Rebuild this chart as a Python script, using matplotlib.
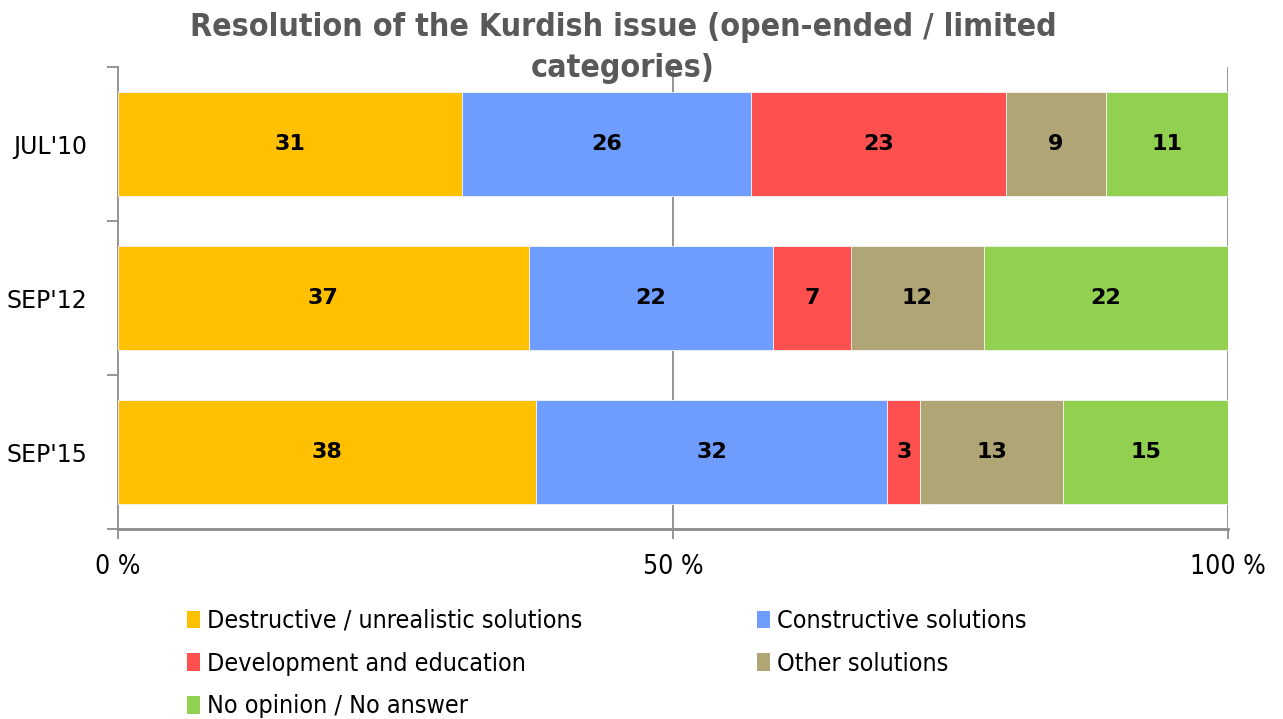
import numpy as np
import matplotlib.pyplot as plt
from matplotlib.patches import Patch

# survey waves (top to bottom)
waves = ["JUL'10", "SEP'12", "SEP'15"]

# answer categories and their shares per wave
categories = [
    "Destructive / unrealistic solutions",
    "Constructive solutions",
    "Development and education",
    "Other solutions",
    "No opinion / No answer",
]
destructive = [31, 37, 38]
constructive = [26, 22, 32]
development = [23, 7, 3]
other = [9, 12, 13]
no_opinion = [11, 22, 15]

colors = ["#FFC000", "#6E9DFF", "#FF5050", "#B0A575", "#92D050"]

series = np.array([destructive, constructive, development, other, no_opinion], dtype=float)
# 100% stacked: each wave scaled to its own total
shares = series / series.sum(axis=0) * 100

fig = plt.figure(figsize=(12.83, 7.19), dpi=100)
ax = fig.add_axes([118 / 1283, 1 - 529 / 719, 1110 / 1283, 462 / 719])

y = np.arange(len(waves))
left = np.zeros(len(waves))
for i, (vals, sh) in enumerate(zip(series, shares)):
    ax.barh(y, sh, left=left, height=0.67, color=colors[i],
            edgecolor="#f4f4f4", linewidth=0.6, zorder=3)
    for j in range(len(waves)):
        ax.text(left[j] + sh[j] / 2, y[j], f"{vals[j]:.0f}", ha="center", va="center",
                fontsize=16, fontweight="bold", color="black",
                family="DejaVu Sans", zorder=4)
    left += sh

ax.set_xlim(0, 100)
ax.set_ylim(len(waves) - 0.5, -0.5)

# vertical grid lines
for gx in (50, 100):
    ax.axvline(gx, color="#8c8c8c", linewidth=1.3, zorder=1)

for s in ("top", "right"):
    ax.spines[s].set_visible(False)
ax.spines["left"].set_color("#8c8c8c")
ax.spines["bottom"].set_color("#8c8c8c")
ax.spines["left"].set_linewidth(1.3)
ax.spines["bottom"].set_linewidth(2)

ax.set_xticks([0, 50, 100])
ax.set_xticklabels(["0 %", "50 %", "100 %"], fontsize=19, stretch="condensed")
ax.tick_params(axis="x", length=7, color="#8c8c8c", width=1.3, pad=11)

ax.set_yticks(y)
ax.set_yticklabels(waves, fontsize=17)
ax.tick_params(axis="y", length=0, pad=22)
ax.set_yticks(np.arange(len(waves) + 1) - 0.5, minor=True)
ax.tick_params(axis="y", which="minor", length=8, color="#8c8c8c", width=1.3)

fig.text(623 / 1283, 1 - 48 / 719, "Resolution of the Kurdish issue (open-ended / limited\ncategories)",
         ha="center", va="center", fontsize=23, fontweight="bold", color="#595959",
         stretch="condensed", linespacing=1.4)

handles = [Patch(facecolor=c) for c in colors]
order = [0, 2, 4, 1, 3]
fig.legend([handles[k] for k in order], [categories[k] for k in order],
           loc="upper left", bbox_to_anchor=(187 / 1283, 1 - 609 / 719), ncol=2,
           frameon=False, prop={"size": 18, "stretch": "condensed"},
           handlelength=0.5, handleheight=0.7, handletextpad=0.3,
           columnspacing=7.0, labelspacing=0.75, borderpad=0, borderaxespad=0)

fig.savefig("out.png", dpi=100)
